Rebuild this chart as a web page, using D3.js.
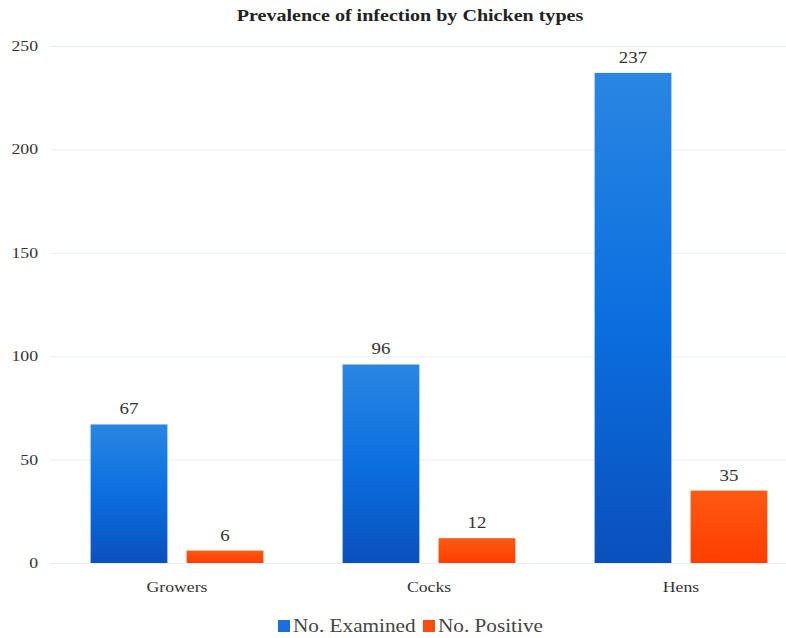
<!DOCTYPE html>
<html>
<head>
<meta charset="utf-8">
<script src="https://cdn.jsdelivr.net/npm/d3@7"></script>
<style>
  body { margin: 0; background: #fff; }
  text { font-family: 'Liberation Serif', 'Times New Roman', Times, serif; }
</style>
</head>
<body>
<svg width="786" height="638"></svg>
<script>
var categories = ['Growers', 'Cocks', 'Hens'];
var series = ['No. Examined', 'No. Positive'];
var examined = [67, 96, 237];
var positive = [6, 12, 35];
var yTicks = [0, 50, 100, 150, 200, 250];

// the original text is a little wider than the font
var stretch = 1.18;
function place(x, y) {
  return 'translate(' + x + ',' + y + ') scale(' + stretch + ',1)';
}

var svg = d3.select('svg');

var xScale = d3.scaleBand().domain(categories).range([51, 807]);
var sScale = d3.scaleBand().domain(series).range([0, xScale.bandwidth()])
  .paddingInner(0.2).paddingOuter(0.4125);
var yScale = d3.scaleLinear().domain([0, 250]).range([563, 46]);

var defs = svg.append('defs');
var gBlue = defs.append('linearGradient').attr('id', 'gBlue')
  .attr('x1', 0).attr('y1', 0).attr('x2', 0).attr('y2', 1);
gBlue.append('stop').attr('offset', '0%').attr('stop-color', '#2a86e2');
gBlue.append('stop').attr('offset', '50%').attr('stop-color', '#0b6fe0');
gBlue.append('stop').attr('offset', '100%').attr('stop-color', '#0a50bd');
var gOrange = defs.append('linearGradient').attr('id', 'gOrange')
  .attr('x1', 0).attr('y1', 0).attr('x2', 0).attr('y2', 1);
gOrange.append('stop').attr('offset', '0%').attr('stop-color', '#ff5a14');
gOrange.append('stop').attr('offset', '100%').attr('stop-color', '#ff3d00');

var fills = { 'No. Examined': 'url(#gBlue)', 'No. Positive': 'url(#gOrange)' };
var legendColors = { 'No. Examined': '#1a6fdc', 'No. Positive': '#ff4a10' };

// grid lines
svg.append('g').selectAll('line')
  .data(yTicks)
  .enter()
  .append('line')
  .attr('x1', 50)
  .attr('x2', 786)
  .attr('y1', d => yScale(d) + 0.5)
  .attr('y2', d => yScale(d) + 0.5)
  .attr('stroke', '#e8eef7')
  .attr('stroke-width', 1);

// y tick labels
svg.append('g').selectAll('text')
  .data(yTicks)
  .enter()
  .append('text')
  .attr('transform', d => place(38, yScale(d) + 5))
  .attr('text-anchor', 'end')
  .attr('font-size', 15)
  .attr('fill', '#333')
  .text(d => d);

var rows = [];
categories.forEach(function(c, i) {
  rows.push({ cat: c, s: 'No. Examined', v: examined[i] });
  rows.push({ cat: c, s: 'No. Positive', v: positive[i] });
});

svg.append('g').selectAll('rect')
  .data(rows)
  .enter()
  .append('rect')
  .attr('x', d => xScale(d.cat) + sScale(d.s))
  .attr('y', d => yScale(d.v))
  .attr('width', sScale.bandwidth())
  .attr('height', d => yScale(0) - yScale(d.v))
  .attr('fill', d => fills[d.s]);

svg.append('g').selectAll('text')
  .data(rows)
  .enter()
  .append('text')
  .attr('transform', d => place(xScale(d.cat) + sScale(d.s) + sScale.bandwidth() / 2, yScale(d.v) - 10))
  .attr('text-anchor', 'middle')
  .attr('font-size', 16)
  .attr('fill', '#333')
  .text(d => d.v);

// category labels
svg.append('g').selectAll('text')
  .data(categories)
  .enter()
  .append('text')
  .attr('transform', d => place(xScale(d) + xScale.bandwidth() / 2, 592))
  .attr('text-anchor', 'middle')
  .attr('font-size', 15)
  .attr('fill', '#333')
  .text(d => d);

// title
svg.append('text')
  .attr('transform', place(410, 21))
  .attr('text-anchor', 'middle')
  .attr('font-size', 17)
  .attr('font-weight', 'bold')
  .attr('fill', '#222')
  .text('Prevalence of infection by Chicken types');

// legend
var legendX = [278, 423];
var lg = svg.append('g').selectAll('g')
  .data(series)
  .enter()
  .append('g')
  .attr('transform', (d, i) => 'translate(' + legendX[i] + ',620)');
lg.append('rect')
  .attr('width', 12).attr('height', 12)
  .attr('fill', d => legendColors[d]);
lg.append('text')
  .attr('transform', place(15, 12))
  .attr('font-size', 18)
  .attr('fill', '#444')
  .text(d => d);
</script>
</body>
</html>
